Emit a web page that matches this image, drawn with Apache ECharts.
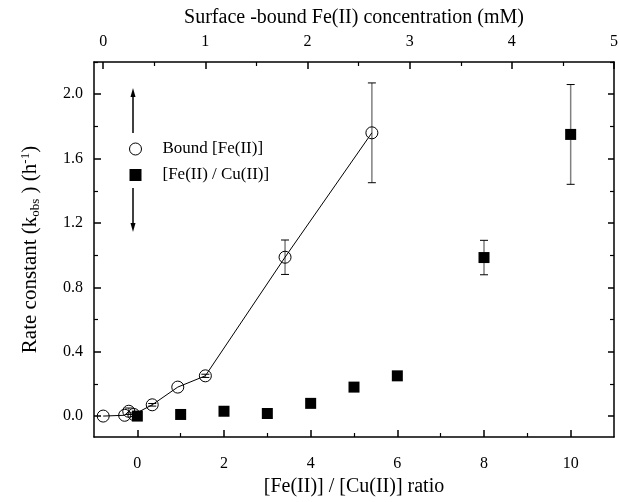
<!DOCTYPE html>
<html>
<head>
<meta charset="utf-8">
<script src="https://cdn.jsdelivr.net/npm/echarts@6/dist/echarts.min.js"></script>
<style>html,body{margin:0;padding:0;background:#fff}#c{width:619px;height:502px}</style>
</head>
<body>
<div id="c"></div>
<script>
// [Fe(II)]/[Cu(II)] ratio series (filled squares, bottom axis)
const ratioX = [0, 1, 2, 3, 4, 5, 6, 8, 10];
const ratioRate = [0.0, 0.01, 0.03, 0.016, 0.079, 0.18, 0.25, 0.985, 1.75];
const ratioErr = [0, 0, 0, 0, 0, 0, 0, 0.107, 0.31];
// Bound Fe(II) series (open circles with line, top axis)
const boundX = [0, 0.21, 0.25, 0.3, 0.48, 0.73, 1.0, 1.78, 2.63];
const boundRate = [0.0, 0.005, 0.03, 0.01, 0.07, 0.18, 0.25, 0.987, 1.76];
const boundErr = [0, 0, 0.02, 0, 0.008, 0, 0.01, 0.107, 0.31];
// tick labels
const bottomTicks = [0, 2, 4, 6, 8, 10];
const bottomMinor = [1, 3, 5, 7, 9];
const topTicks = [0, 1, 2, 3, 4, 5];
const topMinor = [0.5, 1.5, 2.5, 3.5, 4.5];
const yTicks = [0, 0.4, 0.8, 1.2, 1.6, 2.0];
const yMinor = [0.2, 0.6, 1.0, 1.4, 1.8, 2.2];

const FONT = 'Liberation Serif';
const chart = echarts.init(document.getElementById('c'));

function errRender(params, api) {
  const x = api.value(0), y = api.value(1), e = api.value(2);
  if (!e) return null;
  const t = api.coord([x, y + e]), b = api.coord([x, y - e]);
  const hw = 4;
  return {
    type: 'group',
    children: [
      {type: 'line', shape: {x1: t[0], y1: t[1], x2: b[0], y2: b[1]}, style: {stroke: '#808080', lineWidth: 1.5}},
      {type: 'line', shape: {x1: t[0] - hw, y1: t[1], x2: t[0] + hw, y2: t[1]}, style: {stroke: '#000', lineWidth: 1}},
      {type: 'line', shape: {x1: b[0] - hw, y1: b[1], x2: b[0] + hw, y2: b[1]}, style: {stroke: '#000', lineWidth: 1}}
    ]
  };
}

const axisLineStyle = {show: true, onZero: false, lineStyle: {color: '#000', width: 1.5}};
const noLine = {show: false, onZero: false};
const lbl = {fontFamily: FONT, fontSize: 16, color: '#000'};
const Y_MIN = -0.13, Y_MAX = 2.2;

const option = {
  animation: false,
  backgroundColor: '#fff',
  grid: {left: 94, right: 5, top: 62, bottom: 65, containLabel: false, outerBoundsMode: 'none'},
  xAxis: [
    {
      type: 'value', position: 'bottom', min: -1, max: 11, gridIndex: 0,
      axisLine: axisLineStyle,
      axisTick: {show: true, inside: true, length: 7, customValues: bottomTicks, lineStyle: {color: '#000', width: 1.5}},
      axisLabel: Object.assign({customValues: bottomTicks, margin: 19}, lbl),
      splitLine: {show: false},
      name: '[Fe(II)] / [Cu(II)] ratio', nameLocation: 'middle', nameGap: 40,
      nameTextStyle: {fontFamily: FONT, fontSize: 20, color: '#000'}
    },
    {
      type: 'value', position: 'bottom', min: -1, max: 11, gridIndex: 0,
      axisLine: noLine,
      axisTick: {show: true, inside: true, length: 4, customValues: bottomMinor, lineStyle: {color: '#000', width: 1.2}},
      axisLabel: {show: false}, splitLine: {show: false}
    },
    {
      type: 'value', position: 'top', min: -0.09, max: 5, gridIndex: 0,
      axisLine: axisLineStyle,
      axisTick: {show: true, inside: true, length: 7, customValues: topTicks, lineStyle: {color: '#000', width: 1.5}},
      axisLabel: Object.assign({customValues: topTicks, margin: 12}, lbl),
      splitLine: {show: false},
      name: 'Surface -bound Fe(II) concentration (mM)', nameLocation: 'middle', nameGap: 34,
      nameTextStyle: {fontFamily: FONT, fontSize: 20, color: '#000'}
    },
    {
      type: 'value', position: 'top', min: -0.09, max: 5, gridIndex: 0,
      axisLine: noLine,
      axisTick: {show: true, inside: true, length: 4, customValues: topMinor, lineStyle: {color: '#000', width: 1.2}},
      axisLabel: {show: false}, splitLine: {show: false}
    }
  ],
  yAxis: [
    {
      type: 'value', position: 'left', min: Y_MIN, max: Y_MAX,
      axisLine: axisLineStyle,
      axisTick: {show: true, inside: true, length: 7, customValues: yTicks, lineStyle: {color: '#000', width: 1.5}},
      axisLabel: Object.assign({customValues: yTicks, margin: 11, formatter: v => v.toFixed(1)}, lbl),
      splitLine: {show: false},
      name: 'Rate constant (k{sub|obs} ) (h{sup|-1})', nameLocation: 'middle', nameGap: 52,
      nameTextStyle: {
        fontFamily: FONT, fontSize: 21, color: '#000',
        rich: {
          sub: {fontFamily: FONT, fontSize: 13, color: '#000', padding: [10, 0, 0, 0]},
          sup: {fontFamily: FONT, fontSize: 13, color: '#000', padding: [0, 0, 10, 0]}
        }
      }
    },
    {
      type: 'value', position: 'left', min: Y_MIN, max: Y_MAX,
      axisLine: noLine,
      axisTick: {show: true, inside: true, length: 4, customValues: yMinor, lineStyle: {color: '#000', width: 1.2}},
      axisLabel: {show: false}, splitLine: {show: false}
    },
    {
      type: 'value', position: 'right', min: Y_MIN, max: Y_MAX,
      axisLine: axisLineStyle,
      axisTick: {show: true, inside: true, length: 6, customValues: yTicks, lineStyle: {color: '#000', width: 1.5}},
      axisLabel: {show: false}, splitLine: {show: false}
    },
    {
      type: 'value', position: 'right', min: Y_MIN, max: Y_MAX,
      axisLine: noLine,
      axisTick: {show: true, inside: true, length: 4, customValues: yMinor, lineStyle: {color: '#000', width: 1.2}},
      axisLabel: {show: false}, splitLine: {show: false}
    }
  ],
  legend: {
    orient: 'vertical', left: 124, top: 134, itemWidth: 12, itemHeight: 12, itemGap: 6,
    textStyle: {fontFamily: FONT, fontSize: 17, color: '#000', lineHeight: 20, padding: [0, 0, 0, 16]},
    data: [
      {name: 'Bound [Fe(II)]', icon: 'circle', itemStyle: {color: '#fff', borderColor: '#000', borderWidth: 1, opacity: 1}},
      {name: '[Fe(II) / Cu(II)]', icon: 'rect', itemStyle: {color: '#000', opacity: 1}}
    ]
  },
  graphic: [
    {type: 'line', shape: {x1: 133, y1: 94, x2: 133, y2: 133}, style: {stroke: '#000', lineWidth: 1.5}},
    {type: 'polygon', shape: {points: [[133, 88], [130.5, 97], [135.5, 97]]}, style: {fill: '#000'}},
    {type: 'line', shape: {x1: 133, y1: 188, x2: 133, y2: 226}, style: {stroke: '#000', lineWidth: 1.5}},
    {type: 'polygon', shape: {points: [[133, 232], [130.5, 223], [135.5, 223]]}, style: {fill: '#000'}}
  ],
  series: [
    {
      name: 'errBound', type: 'custom', xAxisIndex: 2, yAxisIndex: 0, z: 1,
      renderItem: errRender, encode: {x: 0, y: 1},
      data: boundX.map((x, i) => [x, boundRate[i], boundErr[i]])
    },
    {
      name: 'errRatio', type: 'custom', xAxisIndex: 0, yAxisIndex: 0, z: 1,
      renderItem: errRender, encode: {x: 0, y: 1},
      data: ratioX.map((x, i) => [x, ratioRate[i], ratioErr[i]])
    },
    {
      name: 'Bound [Fe(II)]', type: 'line', xAxisIndex: 2, yAxisIndex: 0, z: 3,
      symbol: 'circle', symbolSize: 12,
      itemStyle: {color: 'rgba(0,0,0,0)', borderColor: '#000', borderWidth: 1},
      lineStyle: {color: '#000', width: 1},
      data: boundX.map((x, i) => [x, boundRate[i]])
    },
    {
      name: '[Fe(II) / Cu(II)]', type: 'scatter', xAxisIndex: 0, yAxisIndex: 0, z: 4,
      symbol: 'rect', symbolSize: 11,
      itemStyle: {color: '#000', opacity: 1},
      data: ratioX.map((x, i) => [x, ratioRate[i]])
    }
  ]
};
chart.setOption(option);
</script>
</body>
</html>
